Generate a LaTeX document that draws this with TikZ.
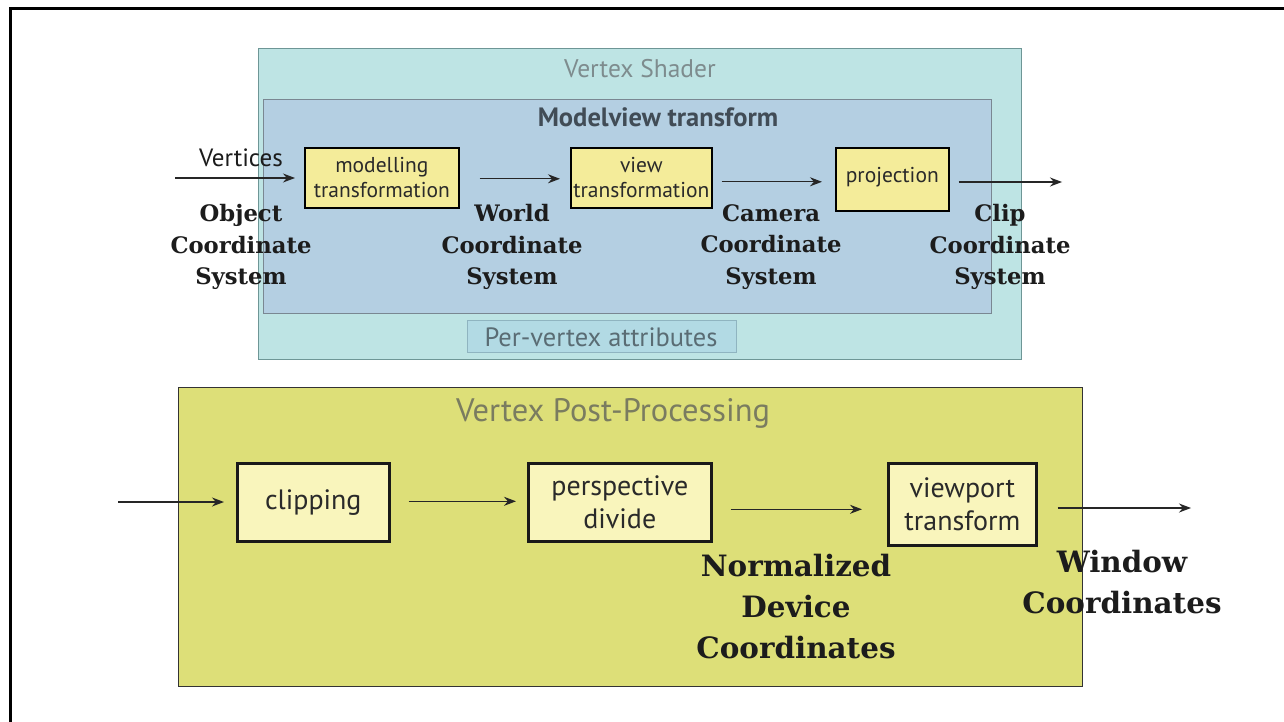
\documentclass[tikz,border=0pt]{standalone}
\usepackage{fontspec}
\setmainfont{DejaVu Serif}
\newfontfamily\sansf{PT Sans}
\usetikzlibrary{arrows.meta}
\definecolor{shaderfill}{HTML}{BEE4E4}
\definecolor{shaderdraw}{HTML}{6E9696}
\definecolor{mvfill}{HTML}{B4CFE2}
\definecolor{mvdraw}{HTML}{7A8792}
\definecolor{pvfill}{HTML}{B2DAE4}
\definecolor{pvdraw}{HTML}{8FB4C0}
\definecolor{upbox}{HTML}{F4EC9A}
\definecolor{postfill}{HTML}{DDDF78}
\definecolor{lowbox}{HTML}{F9F5BC}
\definecolor{titlegray}{HTML}{7E8C8E}
\definecolor{posttitle}{HTML}{7A7C60}
\definecolor{pvtext}{HTML}{5A6C74}
\definecolor{mvtext}{HTML}{414C56}
\definecolor{boxtext}{HTML}{2A2A2A}
\definecolor{labeltext}{HTML}{1C1C1C}
\begin{document}
\begin{tikzpicture}[x=1pt,y=-1pt,
  region/.style={draw, line width=1pt, inner sep=0pt, anchor=north west},
  upstep/.style={draw=black, line width=1.6pt, fill=upbox, inner sep=0pt, anchor=north west,
     font=\sansf\fontsize{21.5}{25}\selectfont, text=boxtext, align=center},
  lowstep/.style={draw=black!90, line width=2.6pt, fill=lowbox, inner sep=0pt, anchor=north west,
     font=\sansf\fontsize{28}{33}\selectfont, text=boxtext, align=center},
  coordlabel/.style={font=\bfseries\fontsize{22.7}{31.5}\selectfont, text=labeltext, align=center, inner sep=0pt},
  biglabel/.style={font=\bfseries\fontsize{29.4}{41}\selectfont, text=labeltext, align=center, inner sep=0pt},
  arr/.style={-{Stealth[length=12pt,width=9pt]}, line width=1.4pt, draw=black!85}
]
\useasboundingbox (0,0) rectangle (1284,722);
\fill[white] (0,0) rectangle (1284,722);
\draw[line width=3pt] (10.5,730) -- (10.5,9) -- (1290,9);

% Vertex shader region
\node[region, draw=shaderdraw, fill=shaderfill, minimum width=763pt, minimum height=311pt] (vs) at (258,48) {};
\node[region, draw=mvdraw, fill=mvfill, minimum width=728pt, minimum height=214pt] (mv) at (263,99) {};
\node[region, draw=pvdraw, fill=pvfill, line width=0.8pt, minimum width=269pt, minimum height=32pt] (pv) at (467,320) {};
\node[font=\sansf\fontsize{26.5}{28}\selectfont, text=pvtext] (pvt) at (601,337) {Per-vertex attributes};
\node[font=\sansf\fontsize{25.5}{28}\selectfont, text=titlegray] (vst) at (640,69) {Vertex Shader};
\node[font=\sansf\bfseries\fontsize{26.5}{28}\selectfont, text=mvtext] (mvt) at (658,117) {Modelview transform};

\node[upstep, minimum width=154pt, minimum height=60pt] (mt) at (304,147) {modelling\\transformation};
\node[upstep, minimum width=141pt, minimum height=60pt] (vt) at (570,147) {view\\transformation};
\node[upstep, minimum width=113pt, minimum height=63pt, text depth=9pt] (pj) at (835,147) {projection};

\coordinate (vin) at (175,178);
\coordinate (vout) at (1062,182);
\node[font=\sansf\fontsize{25}{28}\selectfont, text=labeltext] (vlab) at (241,158) {Vertices};
\draw[arr, shorten >=9pt] (vin) -- (mt.west |- vin);
\draw[arr, shorten <=20pt, shorten >=10pt] ([yshift=-1pt]mt.east) -- ([yshift=-1pt]mt.east -| vt.west);
\draw[arr, shorten <=9pt, shorten >=13pt] ([yshift=-4pt]vt.east) -- ([yshift=-4pt]vt.east -| pj.west);
\draw[arr, shorten <=9pt] (pj.east |- vout) -- (vout);

\node[coordlabel] (ocs) at (241,247) {Object\\Coordinate\\System};
\node[coordlabel] (wcs) at (512,247) {World\\Coordinate\\System};
\node[coordlabel] (ccs) at (771,247) {Camera\\Coordinate\\System};
\node[coordlabel] (clcs) at (1000,247) {Clip\\Coordinate\\System};

% Vertex post-processing region
\node[region, draw=black!80, fill=postfill, minimum width=904pt, minimum height=299pt] (pp) at (178,387) {};
\node[font=\sansf\fontsize{32.5}{34}\selectfont, text=posttitle] (ppt) at (613,413) {Vertex Post-Processing};

\node[lowstep, minimum width=152pt, minimum height=78pt] (cl) at (236,462) {clipping};
\node[lowstep, minimum width=183pt, minimum height=78pt] (pd) at (527,462) {perspective\\divide};
\node[lowstep, minimum width=148pt, minimum height=82pt] (vp) at (887,462) {viewport\\transform};

\coordinate (cin) at (118,502);
\coordinate (wout) at (1191,508);
\draw[arr, shorten >=12pt] (cin) -- (cl.west |- cin);
\draw[arr, shorten <=18pt, shorten >=11pt] ([yshift=1pt]cl.east) -- ([yshift=1pt]cl.east -| pd.west);
\draw[arr, shorten <=18pt, shorten >=25pt] ([yshift=-7pt]pd.east) -- ([yshift=-7pt]pd.east -| vp.west);
\draw[arr, shorten <=20pt] (vp.east |- wout) -- (wout);

\node[biglabel] (ndc) at (796,607) {Normalized\\Device\\Coordinates};
\node[biglabel] (wc) at (1122,582) {Window\\Coordinates};
\end{tikzpicture}
\end{document}
